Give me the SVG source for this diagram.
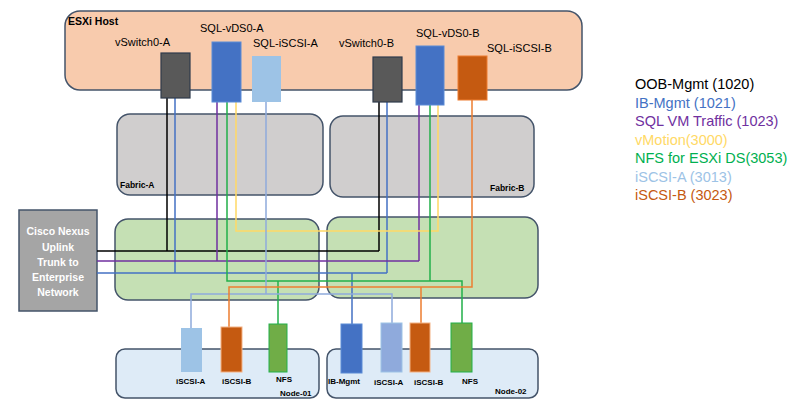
<svg xmlns="http://www.w3.org/2000/svg" width="789" height="414" viewBox="0 0 789 414">
<style>
.box{stroke:#44546A;stroke-width:1.5}
.lbl{font-family:"Liberation Sans",Arial,sans-serif;font-size:11px;fill:#000}
.b{font-family:"Liberation Sans",Arial,sans-serif;font-weight:bold;fill:#000}
.ln{fill:none;stroke-width:1.5}
.leg{font-family:"Liberation Sans",Arial,sans-serif;font-size:14.5px}
</style>
<rect width="789" height="414" fill="#fff"/>
<g id="esxi-host">
<rect class="box" x="65" y="11" width="517" height="79" rx="15" fill="#F8CBAD"/>
<text class="b" x="68" y="25" font-size="10.5">ESXi Host</text>
</g>
<g id="fabric-a">
<rect class="box" x="117" y="114" width="206" height="81" rx="13" fill="#D0CECE"/>
<text class="b" x="120" y="188" font-size="8.5">Fabric-A</text>
</g>
<g id="fabric-b">
<rect class="box" x="330" y="116" width="204" height="81" rx="13" fill="#D0CECE"/>
<text class="b" x="490" y="191" font-size="8.5">Fabric-B</text>
</g>
<g id="switch-a">
<rect class="box" x="115" y="219" width="204" height="81" rx="13" fill="#C5E0B4"/>
</g>
<g id="switch-b">
<rect class="box" x="327" y="217" width="211" height="81" rx="13" fill="#C5E0B4"/>
</g>
<g id="node-01">
<rect class="box" x="116" y="349" width="203" height="49" rx="9" fill="#DEEBF7"/>
<text class="b" x="280" y="396" font-size="8">Node-01</text>
</g>
<g id="node-02">
<rect class="box" x="327" y="349" width="211" height="49" rx="9" fill="#DEEBF7"/>
<text class="b" x="495" y="394" font-size="8">Node-02</text>
</g>
<g id="cisco-nexus">
<rect x="19" y="210" width="78" height="101" fill="#A5A5A5" stroke="#44546A" stroke-width="1.5"/>
<g class="b" font-size="10.5" fill="#fff" text-anchor="middle">
<text x="58" y="235" fill="#fff">Cisco Nexus</text>
<text x="58" y="251" fill="#fff">Uplink</text>
<text x="58" y="266" fill="#fff">Trunk to</text>
<text x="58" y="281" fill="#fff">Enterprise</text>
<text x="58" y="296" fill="#fff">Network</text>
</g>
</g>
<g id="connectors">
<path class="ln" stroke="#000" d="M167,98V251M97,251H379M379,102V251"/>
<path class="ln" stroke="#4472C4" d="M175,98V273M97,273H387M387,102V273M352,273V324"/>
<path class="ln" stroke="#7030A0" d="M217,102V261M97,261H419M419,105V261"/>
<path class="ln" stroke="#FFD966" d="M236,102V231H438V105"/>
<path class="ln" stroke="#22B04A" d="M227,102V281H462V323M430,105V281M278,281V324"/>
<path class="ln" stroke="#8FAADC" d="M266,102V294M191,328V294H392V323"/>
<path class="ln" stroke="#ED7D31" d="M472,100V287H229V327M421,287V323"/>
</g>
<g id="vswitch0-a">
<rect x="161" y="53" width="29" height="45" fill="#595959" stroke="#2F3B4C" stroke-width="1.2"/>
<text class="lbl" x="115" y="46">vSwitch0-A</text>
</g>
<g id="sql-vds0-a">
<rect x="212" y="42" width="29" height="60" fill="#4472C4" stroke="#5B8BD6" stroke-width="1"/>
<text class="lbl" x="200" y="32">SQL-vDS0-A</text>
</g>
<g id="sql-iscsi-a">
<rect x="252" y="56" width="29" height="46" fill="#9DC3E6"/>
<text class="lbl" x="253" y="47">SQL-iSCSI-A</text>
</g>
<g id="vswitch0-b">
<rect x="373" y="57" width="29" height="45" fill="#595959" stroke="#2F3B4C" stroke-width="1.2"/>
<text class="lbl" x="339" y="47">vSwitch0-B</text>
</g>
<g id="sql-vds0-b">
<rect x="416" y="46" width="28" height="59" fill="#4472C4" stroke="#5B8BD6" stroke-width="1"/>
<text class="lbl" x="416" y="37">SQL-vDS0-B</text>
</g>
<g id="sql-iscsi-b">
<rect x="458" y="56" width="29" height="44" fill="#C55A11" stroke="#ED7D31" stroke-width="1"/>
<text class="lbl" x="487" y="52">SQL-iSCSI-B</text>
</g>
<g id="n1-iscsi-a">
<rect x="181" y="328" width="21" height="44" fill="#9DC3E6"/>
<text class="b" x="176" y="384" font-size="8">iSCSI-A</text>
</g>
<g id="n1-iscsi-b">
<rect x="221" y="327" width="21" height="45" fill="#C55A11" stroke="#F4B183" stroke-width="1"/>
<text class="b" x="222" y="384" font-size="8">iSCSI-B</text>
</g>
<g id="n1-nfs">
<rect x="269" y="324" width="18" height="48" fill="#70AD47" stroke="#22B04A" stroke-width="1"/>
<text class="b" x="276" y="382" font-size="8">NFS</text>
</g>
<g id="n2-ib-mgmt">
<rect x="341" y="324" width="21" height="49" fill="#4472C4" stroke="#5B8BD6" stroke-width="1"/>
<text class="b" x="328" y="384" font-size="8">IB-Mgmt</text>
</g>
<g id="n2-iscsi-a">
<rect x="381" y="323" width="21" height="49" fill="#8FAADC" stroke="#9DC3E6" stroke-width="1"/>
<text class="b" x="374" y="385" font-size="8">iSCSI-A</text>
</g>
<g id="n2-iscsi-b">
<rect x="410" y="323" width="20" height="49" fill="#C55A11" stroke="#F4B183" stroke-width="1"/>
<text class="b" x="414" y="385" font-size="8">iSCSI-B</text>
</g>
<g id="n2-nfs">
<rect x="451" y="323" width="21" height="49" fill="#70AD47" stroke="#22B04A" stroke-width="1"/>
<text class="b" x="462" y="384" font-size="8">NFS</text>
</g>
<g id="legend" class="leg">
<text x="635" y="89" fill="#000">OOB-Mgmt (1020)</text>
<text x="635" y="108" fill="#4472C4">IB-Mgmt (1021)</text>
<text x="635" y="126" fill="#7030A0">SQL VM Traffic (1023)</text>
<text x="635" y="145" fill="#FFD966">vMotion(3000)</text>
<text x="635" y="163" fill="#00B050">NFS for ESXi DS(3053)</text>
<text x="635" y="182" fill="#9DC3E6">iSCSI-A (3013)</text>
<text x="635" y="200" fill="#C55A11">iSCSI-B (3023)</text>
</g>
</svg>
